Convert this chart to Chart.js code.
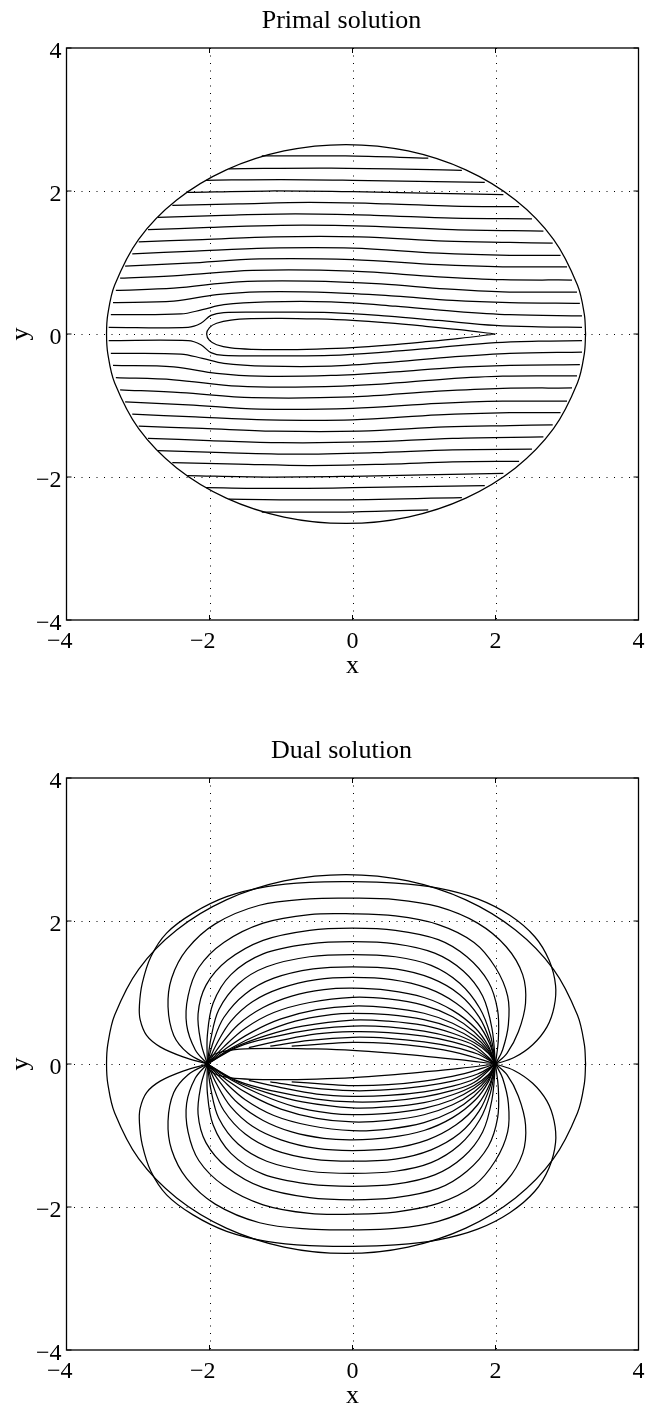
<!DOCTYPE html>
<html>
<head>
<meta charset="utf-8">
<script src="https://cdn.jsdelivr.net/npm/chart.js@4.4.1/dist/chart.umd.min.js"></script>
<style>
  html, body { margin: 0; padding: 0; background: #fff; }
  body { position: relative; width: 647px; height: 1409px; overflow: hidden; }
  canvas { position: absolute; left: 0; }
  #primalChart { top: 0; }
  #dualChart { top: 730px; }
</style>
</head>
<body>
<canvas id="primalChart" width="647" height="679"></canvas>
<canvas id="dualChart" width="647" height="679"></canvas>
<script>
// axis ticks shared by both panels
const xTicks = [-4, -2, 0, 2, 4];
const yTicks = [-4, -2, 0, 2, 4];
const gridTicks = [-2, 0, 2];

// outer boundary of the domain, traced once around (x, y pairs)
const boundary = [
  3.26, 0, 3.242, 0.277, 3.146, 0.686, 2.811, 1.325, 2.279, 1.874, 1.585, 2.295,
  0.777, 2.56, -0.09, 2.65, -0.957, 2.56, -1.765, 2.295, -2.459, 1.874, -2.991, 1.325,
  -3.326, 0.686, -3.422, 0.277, -3.44, 0, -3.422, -0.277, -3.326, -0.686, -2.991, -1.325,
  -2.459, -1.874, -1.765, -2.295, -0.957, -2.56, -0.09, -2.65, 0.777, -2.56, 1.585, -2.295,
  2.279, -1.874, 2.811, -1.325, 3.146, -0.686, 3.242, -0.277, 3.26, 0
];

// airfoil outline, trailing edge -> upper surface -> leading edge -> lower surface
const airfoil = [
  2.0, 0, 1.5, 0.06, 1.0, 0.11, 0.5, 0.155, 0, 0.19, -0.5, 0.21, -1.0, 0.22, -1.4, 0.215,
  -1.7, 0.195, -1.9, 0.15, -2.0, 0.09, -2.04, 0, -2.0, -0.09, -1.9, -0.15, -1.7, -0.195,
  -1.4, -0.215, -1.0, -0.22, -0.5, -0.21, 0, -0.19, 0.5, -0.155, 1.0, -0.11, 1.5, -0.06, 2.0, 0
];

// primal solution: streamlines above the airfoil
const primalUpper = [
  [-1.27, 2.49, -0.1, 2.49, 1.06, 2.46],
  [-1.73, 2.31, -0.3, 2.32, 1.53, 2.29],
  [-2.05, 2.15, -1.0, 2.16, 0, 2.15, 1.85, 2.12],
  [-2.31, 1.98, -1.2, 2.0, 0, 1.99, 1.0, 1.97, 2.11, 1.95],
  [-2.52, 1.8, -1.6, 1.82, -0.6, 1.84, 0.5, 1.82, 1.4, 1.79, 2.33, 1.78],
  [-2.72, 1.63, -1.8, 1.66, -0.8, 1.68, 0.3, 1.66, 1.4, 1.62, 2.51, 1.61],
  [-2.86, 1.46, -2.0, 1.49, -1.0, 1.52, 0.2, 1.51, 1.4, 1.46, 2.67, 1.44],
  [-2.99, 1.29, -2.1, 1.32, -1.1, 1.36, 0.1, 1.36, 1.3, 1.3, 2.2, 1.28, 2.8, 1.27],
  [-3.08, 1.12, -2.2, 1.16, -1.2, 1.2, 0, 1.2, 1.2, 1.13, 2.2, 1.1, 2.91, 1.1],
  [-3.18, 0.95, -2.3, 0.99, -1.3, 1.05, 0, 1.04, 1.2, 0.97, 2.1, 0.94, 3.0, 0.94],
  [-3.25, 0.78, -2.4, 0.82, -1.4, 0.89, 0, 0.88, 1.2, 0.8, 2.1, 0.76, 3.07, 0.755],
  [-3.31, 0.61, -2.5, 0.64, -1.6, 0.73, -0.6, 0.74, 0.4, 0.7, 1.3, 0.63, 2.1, 0.59, 3.14, 0.587],
  [-3.35, 0.44, -2.5, 0.46, -1.9, 0.55, -1.3, 0.59, -0.3, 0.58, 0.6, 0.53, 1.4, 0.47, 2.2, 0.44, 3.18, 0.43],
  [-3.38, 0.27, -2.4, 0.28, -2.1, 0.34, -1.8, 0.41, -1.2, 0.45, -0.3, 0.45, 0.6, 0.39, 1.4, 0.32, 2.2, 0.27, 3.21, 0.252],
  [-3.41, 0.094, -2.3, 0.094, -2.12, 0.15, -1.98, 0.26, -1.8, 0.3, -1.2, 0.305, -0.3, 0.3, 0.5, 0.25, 1.2, 0.19, 2.0, 0.12, 2.6, 0.1, 3.21, 0.094]
];

// primal solution: streamlines below the airfoil
const primalLower = [
  [-1.27, -2.49, -0.1, -2.49, 1.06, -2.46],
  [-1.73, -2.31, -0.3, -2.32, 1.53, -2.29],
  [-2.05, -2.15, -1.0, -2.16, 0, -2.15, 1.85, -2.12],
  [-2.31, -1.98, -1.2, -2.0, 0, -1.99, 1.0, -1.97, 2.11, -1.95],
  [-2.52, -1.8, -1.6, -1.82, -0.6, -1.84, 0.5, -1.82, 1.4, -1.79, 2.33, -1.78],
  [-2.72, -1.63, -1.8, -1.66, -0.8, -1.68, 0.3, -1.66, 1.4, -1.62, 2.51, -1.61],
  [-2.86, -1.46, -2.0, -1.49, -1.0, -1.52, 0.2, -1.51, 1.4, -1.46, 2.67, -1.44],
  [-2.99, -1.29, -2.1, -1.32, -1.1, -1.36, 0.1, -1.36, 1.3, -1.3, 2.2, -1.28, 2.8, -1.27],
  [-3.08, -1.12, -2.2, -1.16, -1.2, -1.2, 0, -1.2, 1.2, -1.13, 2.2, -1.1, 2.91, -1.1],
  [-3.18, -0.95, -2.3, -0.99, -1.3, -1.05, 0, -1.04, 1.2, -0.97, 2.1, -0.94, 3.0, -0.94],
  [-3.25, -0.78, -2.4, -0.82, -1.4, -0.89, 0, -0.88, 1.2, -0.8, 2.1, -0.76, 3.07, -0.755],
  [-3.31, -0.61, -2.5, -0.64, -1.6, -0.73, -0.6, -0.74, 0.4, -0.7, 1.3, -0.63, 2.1, -0.59, 3.14, -0.587],
  [-3.35, -0.44, -2.5, -0.46, -1.9, -0.55, -1.3, -0.59, -0.3, -0.58, 0.6, -0.53, 1.4, -0.47, 2.2, -0.44, 3.18, -0.43],
  [-3.38, -0.27, -2.4, -0.28, -2.1, -0.34, -1.8, -0.41, -1.2, -0.45, -0.3, -0.45, 0.6, -0.39, 1.4, -0.32, 2.2, -0.27, 3.21, -0.252],
  [-3.41, -0.094, -2.3, -0.094, -2.12, -0.15, -1.98, -0.26, -1.8, -0.3, -1.2, -0.305, -0.3, -0.3, 0.5, -0.25, 1.2, -0.19, 2.0, -0.12, 2.6, -0.1, 3.21, -0.094]
];

// dual solution: contours above the airfoil, leading edge round to trailing edge
const dualUpper = [
  [-2.03, 0, -2.37, 0.1, -2.69, 0.24, -2.88, 0.4, -2.97, 0.62, -2.98, 0.82, -2.94, 1.13, -2.82, 1.5, -2.6, 1.83, -2.23, 2.11, -1.76, 2.34, -1.2, 2.48, -0.6, 2.54, 0, 2.55, 0.6, 2.53, 1.2, 2.46, 1.75, 2.31, 2.2, 2.08, 2.55, 1.78, 2.75, 1.45, 2.84, 1.1, 2.82, 0.8, 2.72, 0.52, 2.52, 0.27, 2.26, 0.09, 2.0, 0],
  [-2.03, 0, -2.3, 0.15, -2.5, 0.4, -2.58, 0.8, -2.53, 1.2, -2.32, 1.6, -1.92, 1.96, -1.3, 2.22, -0.6, 2.31, 0, 2.32, 0.6, 2.3, 1.2, 2.2, 1.75, 1.97, 2.15, 1.64, 2.38, 1.25, 2.42, 0.85, 2.32, 0.45, 2.16, 0.15, 2.0, 0],
  [-2.03, 0, -2.2, 0.2, -2.32, 0.55, -2.3, 0.95, -2.15, 1.35, -1.8, 1.7, -1.25, 1.97, -0.6, 2.09, 0, 2.1, 0.6, 2.07, 1.2, 1.95, 1.7, 1.7, 2.0, 1.35, 2.17, 0.95, 2.18, 0.55, 2.1, 0.2, 2.0, 0],
  [-2.03, 0, -2.12, 0.3, -2.16, 0.7, -2.05, 1.1, -1.75, 1.45, -1.25, 1.73, -0.6, 1.87, 0, 1.9, 0.6, 1.87, 1.2, 1.74, 1.6, 1.5, 1.9, 1.15, 2.03, 0.75, 2.04, 0.35, 2.0, 0],
  [-2.03, 0, -2.03, 0.4, -1.95, 0.85, -1.7, 1.25, -1.25, 1.54, -0.6, 1.68, 0, 1.71, 0.6, 1.68, 1.15, 1.55, 1.55, 1.3, 1.82, 0.95, 1.95, 0.5, 2.0, 0],
  [-2.03, 0, -1.98, 0.36, -1.87, 0.76, -1.6, 1.12, -1.2, 1.36, -0.6, 1.5, 0, 1.53, 0.6, 1.5, 1.1, 1.38, 1.5, 1.13, 1.78, 0.78, 1.93, 0.4, 2.0, 0],
  [-2.03, 0, -1.95, 0.3, -1.8, 0.65, -1.5, 0.98, -1.1, 1.2, -0.55, 1.33, 0, 1.36, 0.6, 1.33, 1.1, 1.2, 1.5, 0.97, 1.77, 0.66, 1.92, 0.33, 2.0, 0],
  [-2.03, 0, -1.9, 0.28, -1.7, 0.6, -1.4, 0.87, -1.0, 1.06, -0.5, 1.18, 0, 1.21, 0.55, 1.18, 1.05, 1.06, 1.45, 0.85, 1.75, 0.57, 1.92, 0.28, 2.0, 0],
  [-2.03, 0, -1.85, 0.26, -1.6, 0.55, -1.25, 0.79, -0.85, 0.95, -0.4, 1.04, 0, 1.06, 0.5, 1.03, 1.0, 0.93, 1.4, 0.75, 1.72, 0.5, 1.9, 0.25, 2.0, 0],
  [-2.03, 0, -1.8, 0.24, -1.5, 0.5, -1.1, 0.72, -0.6, 0.86, 0, 0.933, 0.5, 0.91, 1.0, 0.82, 1.4, 0.66, 1.7, 0.45, 1.9, 0.22, 2.0, 0],
  [-2.03, 0, -1.75, 0.23, -1.4, 0.45, -1.0, 0.63, -0.5, 0.76, 0, 0.811, 0.5, 0.79, 1.0, 0.71, 1.4, 0.57, 1.7, 0.39, 1.9, 0.19, 2.0, 0],
  [-2.03, 0, -1.7, 0.22, -1.3, 0.42, -0.8, 0.6, -0.3, 0.69, 0, 0.709, 0.5, 0.69, 1.0, 0.62, 1.4, 0.5, 1.7, 0.34, 1.9, 0.17, 2.0, 0],
  [-2.03, 0, -1.65, 0.23, -1.2, 0.4, -0.7, 0.53, 0, 0.615, 0.5, 0.6, 1.0, 0.54, 1.4, 0.43, 1.7, 0.3, 1.9, 0.15, 2.0, 0],
  [-2.03, 0, -1.6, 0.24, -1.1, 0.38, -0.5, 0.49, 0, 0.531, 0.5, 0.52, 1.0, 0.46, 1.4, 0.37, 1.7, 0.26, 2.0, 0],
  [-1.45, 0.23, -1.0, 0.33, -0.5, 0.42, 0, 0.452, 0.5, 0.44, 1.0, 0.39, 1.4, 0.31, 1.7, 0.21, 2.0, 0],
  [-1.15, 0.25, -0.6, 0.33, 0, 0.373, 0.5, 0.36, 1.0, 0.31, 1.4, 0.24, 1.75, 0.14, 2.0, 0],
  [-0.85, 0.25, -0.4, 0.28, 0, 0.303, 0.5, 0.29, 1.0, 0.24, 1.5, 0.15, 2.0, 0]
];

// dual solution: contours below the airfoil
const dualLower = [
  [-2.03, 0, -2.37, -0.1, -2.69, -0.24, -2.88, -0.4, -2.97, -0.62, -2.98, -0.82, -2.94, -1.13, -2.82, -1.5, -2.6, -1.83, -2.23, -2.11, -1.76, -2.34, -1.2, -2.48, -0.6, -2.54, 0, -2.55, 0.6, -2.53, 1.2, -2.46, 1.75, -2.31, 2.2, -2.08, 2.55, -1.78, 2.75, -1.45, 2.84, -1.1, 2.82, -0.8, 2.72, -0.52, 2.52, -0.27, 2.26, -0.09, 2.0, 0],
  [-2.03, 0, -2.3, -0.15, -2.5, -0.4, -2.58, -0.8, -2.53, -1.2, -2.32, -1.6, -1.92, -1.96, -1.3, -2.22, -0.6, -2.31, 0, -2.32, 0.6, -2.3, 1.2, -2.2, 1.75, -1.97, 2.15, -1.64, 2.38, -1.25, 2.42, -0.85, 2.32, -0.45, 2.16, -0.15, 2.0, 0],
  [-2.03, 0, -2.2, -0.2, -2.32, -0.55, -2.3, -0.95, -2.15, -1.35, -1.8, -1.7, -1.25, -1.97, -0.6, -2.09, 0, -2.1, 0.6, -2.07, 1.2, -1.95, 1.7, -1.7, 2.0, -1.35, 2.17, -0.95, 2.18, -0.55, 2.1, -0.2, 2.0, 0],
  [-2.03, 0, -2.12, -0.3, -2.16, -0.7, -2.05, -1.1, -1.75, -1.45, -1.25, -1.73, -0.6, -1.87, 0, -1.9, 0.6, -1.87, 1.2, -1.74, 1.6, -1.5, 1.9, -1.15, 2.03, -0.75, 2.04, -0.35, 2.0, 0],
  [-2.03, 0, -2.03, -0.4, -1.95, -0.85, -1.7, -1.25, -1.25, -1.54, -0.6, -1.68, 0, -1.71, 0.6, -1.68, 1.15, -1.55, 1.55, -1.3, 1.82, -0.95, 1.95, -0.5, 2.0, 0],
  [-2.03, 0, -1.98, -0.36, -1.87, -0.76, -1.6, -1.12, -1.2, -1.36, -0.6, -1.5, 0, -1.53, 0.6, -1.5, 1.1, -1.38, 1.5, -1.13, 1.78, -0.78, 1.93, -0.4, 2.0, 0],
  [-2.03, 0, -1.95, -0.3, -1.8, -0.65, -1.5, -0.98, -1.1, -1.2, -0.55, -1.33, 0, -1.36, 0.6, -1.33, 1.1, -1.2, 1.5, -0.97, 1.77, -0.66, 1.92, -0.33, 2.0, 0],
  [-2.03, 0, -1.9, -0.28, -1.7, -0.6, -1.4, -0.87, -1.0, -1.06, -0.5, -1.18, 0, -1.21, 0.55, -1.18, 1.05, -1.06, 1.45, -0.85, 1.75, -0.57, 1.92, -0.28, 2.0, 0],
  [-2.03, 0, -1.85, -0.26, -1.6, -0.55, -1.25, -0.79, -0.85, -0.95, -0.4, -1.04, 0, -1.06, 0.5, -1.03, 1.0, -0.93, 1.4, -0.75, 1.72, -0.5, 1.9, -0.25, 2.0, 0],
  [-2.03, 0, -1.8, -0.24, -1.5, -0.5, -1.1, -0.72, -0.6, -0.86, 0, -0.933, 0.5, -0.91, 1.0, -0.82, 1.4, -0.66, 1.7, -0.45, 1.9, -0.22, 2.0, 0],
  [-2.03, 0, -1.75, -0.23, -1.4, -0.45, -1.0, -0.63, -0.5, -0.76, 0, -0.811, 0.5, -0.79, 1.0, -0.71, 1.4, -0.57, 1.7, -0.39, 1.9, -0.19, 2.0, 0],
  [-2.03, 0, -1.7, -0.22, -1.3, -0.42, -0.8, -0.6, -0.3, -0.69, 0, -0.709, 0.5, -0.69, 1.0, -0.62, 1.4, -0.5, 1.7, -0.34, 1.9, -0.17, 2.0, 0],
  [-2.03, 0, -1.65, -0.23, -1.2, -0.4, -0.7, -0.53, 0, -0.615, 0.5, -0.6, 1.0, -0.54, 1.4, -0.43, 1.7, -0.3, 1.9, -0.15, 2.0, 0],
  [-2.03, 0, -1.6, -0.24, -1.1, -0.38, -0.5, -0.49, 0, -0.531, 0.5, -0.52, 1.0, -0.46, 1.4, -0.37, 1.7, -0.26, 2.0, 0],
  [-1.45, -0.23, -1.0, -0.33, -0.5, -0.42, 0, -0.452, 0.5, -0.44, 1.0, -0.39, 1.4, -0.31, 1.7, -0.21, 2.0, 0],
  [-1.15, -0.25, -0.6, -0.33, 0, -0.373, 0.5, -0.36, 1.0, -0.31, 1.4, -0.24, 1.75, -0.14, 2.0, 0],
  [-0.85, -0.25, -0.4, -0.28, 0, -0.303, 0.5, -0.29, 1.0, -0.24, 1.5, -0.15, 2.0, 0]
];

const SERIF = "'Liberation Serif', 'Times New Roman', serif";

function toPoints(flat) {
  const out = [];
  for (let i = 0; i < flat.length; i += 2) {
    out.push({ x: flat[i], y: flat[i + 1] });
  }
  return out;
}

function curve(flat) {
  return {
    data: toPoints(flat),
    showLine: true,
    borderColor: "#000",
    borderWidth: 1.25,
    pointRadius: 0,
    tension: 0.35,
    fill: false
  };
}

// MATLAB-style box: dotted grid, inward ticks, serif labels
const axesFrame = {
  id: "axesFrame",
  beforeDatasetsDraw(chart) {
    const { ctx, chartArea: a, scales: { x, y } } = chart;
    ctx.save();
    ctx.strokeStyle = "#000";
    ctx.lineWidth = 1;
    ctx.setLineDash([1, 6.5]);
    gridTicks.forEach(v => {
      const px = Math.round(x.getPixelForValue(v)) + 0.5;
      ctx.beginPath();
      ctx.moveTo(px, a.top);
      ctx.lineTo(px, a.bottom);
      ctx.stroke();
      const py = Math.round(y.getPixelForValue(v)) + 0.5;
      ctx.beginPath();
      ctx.moveTo(a.left, py);
      ctx.lineTo(a.right, py);
      ctx.stroke();
    });
    ctx.restore();
  },
  afterDraw(chart, args, opts) {
    const { ctx, chartArea: a, scales: { x, y } } = chart;
    ctx.save();
    ctx.strokeStyle = "#000";
    ctx.lineWidth = 1.3;
    ctx.strokeRect(a.left, a.top, a.right - a.left, a.bottom - a.top);

    // inward tick marks on all four sides
    ctx.lineWidth = 1;
    const tickLen = 5;
    xTicks.forEach(v => {
      const px = x.getPixelForValue(v);
      ctx.beginPath();
      ctx.moveTo(px, a.bottom); ctx.lineTo(px, a.bottom - tickLen);
      ctx.moveTo(px, a.top); ctx.lineTo(px, a.top + tickLen);
      ctx.stroke();
    });
    yTicks.forEach(v => {
      const py = y.getPixelForValue(v);
      ctx.beginPath();
      ctx.moveTo(a.left, py); ctx.lineTo(a.left + tickLen, py);
      ctx.moveTo(a.right, py); ctx.lineTo(a.right - tickLen, py);
      ctx.stroke();
    });

    ctx.fillStyle = "#000";
    ctx.font = "24px " + SERIF;
    ctx.textBaseline = "alphabetic";
    // x tick labels: digits centred on the tick, minus sign hangs to the left
    xTicks.forEach(v => {
      const px = x.getPixelForValue(v);
      const digits = String(Math.abs(v));
      const base = a.bottom + 28;
      ctx.textAlign = "center";
      ctx.fillText(digits, px, base);
      if (v < 0) {
        ctx.textAlign = "right";
        ctx.fillText("\u2212", px - ctx.measureText(digits).width / 2, base);
      }
    });
    ctx.textAlign = "right";
    yTicks.forEach(v => {
      const py = y.getPixelForValue(v);
      const label = (v < 0 ? "\u2212" : "") + Math.abs(v);
      ctx.fillText(label, a.left - 5, py + 9.5);
    });

    ctx.font = "26px " + SERIF;
    ctx.textAlign = "center";
    ctx.fillText(opts.title, (a.left + a.right) / 2 - 11, a.top - 19.7);
    ctx.fillText("x", (a.left + a.right) / 2, a.bottom + 53);

    ctx.translate(27.5, y.getPixelForValue(0));
    ctx.rotate(-Math.PI / 2);
    ctx.fillText("y", 0, 0);
    ctx.restore();
  }
};

function makeChart(id, title, datasets) {
  const ctx = document.getElementById(id).getContext("2d");
  return new Chart(ctx, {
    type: "scatter",
    data: { datasets },
    options: {
      responsive: false,
      animation: false,
      devicePixelRatio: 1,
      events: [],
      layout: { padding: { left: 66.5, top: 48, right: 8.5, bottom: 59 } },
      plugins: {
        legend: { display: false },
        tooltip: { enabled: false },
        axesFrame: { title }
      },
      scales: {
        x: { type: "linear", min: -4, max: 4, display: false },
        y: { type: "linear", min: -4, max: 4, display: false }
      }
    },
    plugins: [axesFrame]
  });
}

makeChart("primalChart", "Primal solution", [
  curve(boundary),
  curve(airfoil),
  ...primalUpper.map(curve),
  ...primalLower.map(curve)
]);

makeChart("dualChart", "Dual solution", [
  curve(boundary),
  curve(airfoil),
  ...dualUpper.map(curve),
  ...dualLower.map(curve)
]);
</script>
</body>
</html>
